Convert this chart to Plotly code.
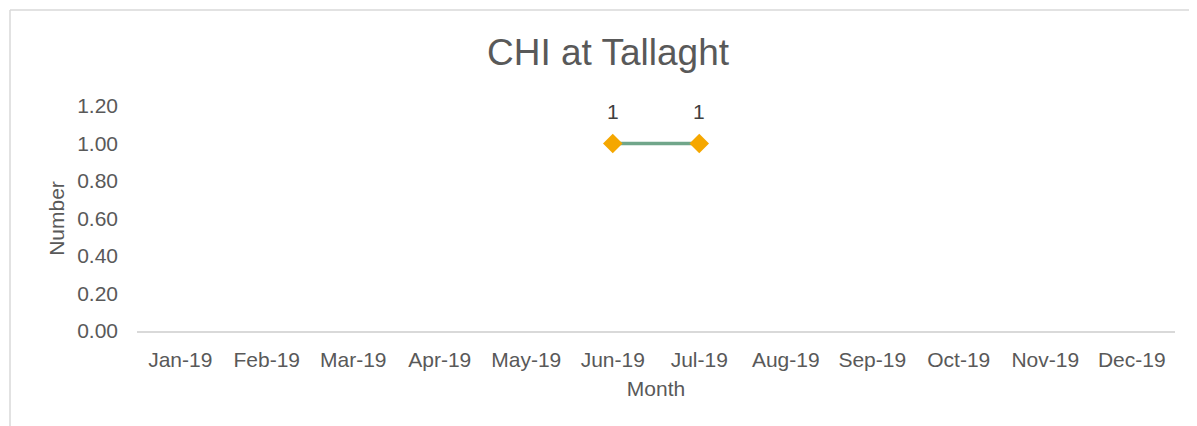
import plotly.graph_objects as go

months = ["Jan-19", "Feb-19", "Mar-19", "Apr-19", "May-19", "Jun-19",
          "Jul-19", "Aug-19", "Sep-19", "Oct-19", "Nov-19", "Dec-19"]
counts = [None, None, None, None, None, 1, 1, None, None, None, None, None]
y_ticks = [0.0, 0.2, 0.4, 0.6, 0.8, 1.0, 1.2]

FONT = "Liberation Sans, Arial, sans-serif"
GREY = "#595959"

# page body has an 8px margin: work in figure coordinates
OFF = 8
FW, FH = 1197 - OFF, 426 - OFF
pl, pr, pt, pb = 137 - OFF, 1175 - OFF, 106 - OFF, 331 - OFF
W, H = pr - pl, pb - pt
def px_x(p): return (p - OFF - pl) / W
def px_y(p): return (pb - (p - OFF)) / H

fig = go.Figure()
fig.add_trace(go.Scatter(
    x=months, y=counts, mode="lines+markers",
    line=dict(color="#70A68A", width=3.5),
    marker=dict(symbol="diamond", size=15, color="#F5A700",
                line=dict(width=0)),
    connectgaps=False, hoverinfo="x+y", showlegend=False,
))

annotations = []
for m, v in zip(months, counts):
    if v is not None:
        annotations.append(dict(
            x=m, y=v, xref="x", yref="y", text=f"{v:g}", showarrow=False,
            yshift=32, font=dict(family=FONT, size=21, color="#404040"),
        ))

fig.update_layout(
    width=FW, height=FH,
    margin=dict(l=pl, r=FW - pr, t=pt, b=FH - pb),
    paper_bgcolor="white", plot_bgcolor="white",
    font=dict(family=FONT, size=21, color=GREY),
    title=dict(text="CHI at Tallaght", x=(608 - OFF) / FW,
               xanchor="center", y=1 - (52 - OFF) / FH, yanchor="middle",
               font=dict(family=FONT, size=37, color=GREY)),
    xaxis=dict(
        type="category", categoryorder="array", categoryarray=months,
        range=[-0.5, 11.5], showgrid=False, zeroline=False,
        showline=True, linecolor="#D9D9D9", linewidth=1.5,
        ticks="", ticklabelstandoff=9,
        tickfont=dict(family=FONT, size=21, color=GREY),
        title=dict(text="Month", standoff=11,
                   font=dict(family=FONT, size=21, color=GREY)),
    ),
    yaxis=dict(
        range=[0, 1.2], tickvals=y_ticks, tickformat=".2f",
        showgrid=False, zeroline=False, showline=False, ticks="",
        ticklabelstandoff=18,
        tickfont=dict(family=FONT, size=21, color=GREY),
        title=dict(text="Number", standoff=6,
                   font=dict(family=FONT, size=21, color=GREY)),
    ),
    annotations=annotations,
    shapes=[
        dict(type="line", xref="paper", yref="paper",
             x0=px_x(10), x1=px_x(1210), y0=px_y(10), y1=px_y(10),
             line=dict(color="#D9D9D9", width=1.5)),
        dict(type="line", xref="paper", yref="paper",
             x0=px_x(10), x1=px_x(10), y0=px_y(10), y1=px_y(440),
             line=dict(color="#D9D9D9", width=1.5)),
    ],
)

fig.write_html("out.html")
